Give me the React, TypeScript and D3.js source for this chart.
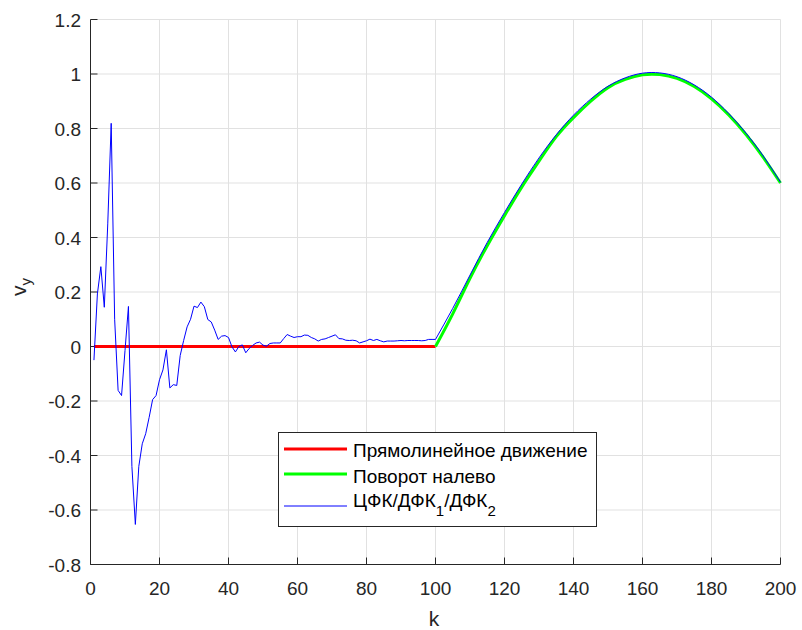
import React from "react";
import * as d3 from "d3";

const W = 802;
const H = 630;

const xTicks = [0, 20, 40, 60, 80, 100, 120, 140, 160, 180, 200];
const yTicks = [-0.8, -0.6, -0.4, -0.2, 0, 0.2, 0.4, 0.6, 0.8, 1, 1.2];
const yTickLabels = ["-0.8", "-0.6", "-0.4", "-0.2", "0", "0.2", "0.4", "0.6", "0.8", "1", "1.2"];

// Red: straight motion (k = 1..100, value 0)
const redK = [1, 100];
const redV = [0, 0];

// Green: left turn (k = 100..200)
const greenK = [100, 105, 110, 115, 120, 125, 130, 135, 140, 145, 150, 155, 160, 165, 170, 175, 180, 185, 190, 195, 200];
const greenV = [0, 0.12, 0.25, 0.37, 0.48, 0.585, 0.68, 0.77, 0.84, 0.9, 0.95, 0.98, 0.997, 0.998, 0.984, 0.954, 0.909, 0.85, 0.778, 0.694, 0.6];

// Blue: filter estimate, k = 1..100 (noisy part)
const blueNoisyV = [
  -0.05, 0.193, 0.293, 0.144, 0.45, 0.819, 0.1, -0.161, -0.18, -0.015,
  0.147, -0.44, -0.653, -0.44, -0.357, -0.32, -0.26, -0.195, -0.18, -0.122,
  -0.086, -0.012, -0.152, -0.14, -0.143, -0.033, 0.022, 0.072, 0.1, 0.148,
  0.143, 0.163, 0.146, 0.099, 0.09, 0.06, 0.026, 0.038, 0.04, 0.033,
  -0.001, -0.02, 0.0, 0.006, -0.023, -0.007, 0.004, 0.013, 0.016, 0.005,
  0.001, 0.011, 0.013, 0.013, 0.013, 0.029, 0.044, 0.038, 0.033, 0.036,
  0.036, 0.042, 0.041, 0.033, 0.028, 0.02, 0.026, 0.028, 0.033, 0.038,
  0.043, 0.029, 0.028, 0.023, 0.022, 0.023, 0.021, 0.013, 0.017, 0.021,
  0.027, 0.022, 0.026, 0.021, 0.017, 0.02, 0.02, 0.02, 0.021, 0.022,
  0.021, 0.022, 0.022, 0.022, 0.022, 0.021, 0.022, 0.026, 0.026, 0.026,
];
// Blue: curve part, k = 100..200
const blueCurveK = [100, 105, 110, 115, 120, 125, 130, 135, 140, 145, 150, 155, 160, 165, 170, 175, 180, 185, 190, 195, 200];
const blueCurveV = [0.026, 0.14, 0.262, 0.382, 0.492, 0.596, 0.692, 0.777, 0.849, 0.908, 0.955, 0.986, 1.003, 1.004, 0.99, 0.96, 0.915, 0.855, 0.783, 0.699, 0.603];

const legendLabels = ["Прямолинейное движение", "Поворот налево"];

const AX = "#262626";
const GRID = "#e1e1e1";
const FONT = "'Liberation Sans', Arial, Helvetica, sans-serif";

export default function App() {
  const x = d3.scaleLinear().domain([0, 200]).range([90.5, 780.5]);
  const y = d3.scaleLinear().domain([-0.8, 1.2]).range([564.5, 19.5]);

  const line = d3
    .line<[number, number]>()
    .x((d) => x(d[0]))
    .y((d) => y(d[1]));
  const smooth = d3
    .line<[number, number]>()
    .x((d) => x(d[0]))
    .y((d) => y(d[1]))
    .curve(d3.curveNatural);

  const redPts: [number, number][] = redK.map((k, i) => [k, redV[i]]);
  const greenPts: [number, number][] = greenK.map((k, i) => [k, greenV[i]]);
  const blueNoisyPts: [number, number][] = blueNoisyV.map((v, i) => [i + 1, v]);
  const blueCurvePts: [number, number][] = blueCurveK.map((k, i) => [k, blueCurveV[i]]);

  const bluePath = (line(blueNoisyPts) || "") + (smooth(blueCurvePts) || "").replace(/^M/, "L");

  const [x0, x1] = x.range();
  const [yb, yt] = y.range();

  // legend geometry
  const lgX = 278.5, lgY = 432.5, lgW = 318, lgH = 94;
  const rowsLine = [449, 474, 506];
  const rowsBase = [457, 483, 507];

  return (
    <svg
      width={W}
      height={H}
      style={{ position: "absolute", left: 0, top: 0, background: "#fff" }}
      fontFamily={FONT}
    >
      <rect x={0} y={0} width={W} height={H} fill="#fff" />
      {/* grid */}
      {xTicks.map((t) => (
        <line key={"gx" + t} x1={x(t)} x2={x(t)} y1={yb} y2={yt} stroke={GRID} strokeWidth={1} />
      ))}
      {yTicks.map((t) => (
        <line key={"gy" + t} x1={x0} x2={x1} y1={y(t)} y2={y(t)} stroke={GRID} strokeWidth={1} />
      ))}

      {/* axes */}
      <line x1={x0} x2={x0} y1={yb} y2={yt} stroke={AX} strokeWidth={1} />
      <line x1={x0} x2={x1} y1={yb} y2={yb} stroke={AX} strokeWidth={1} />
      {xTicks.map((t) => (
        <g key={"tx" + t}>
          <line x1={x(t)} x2={x(t)} y1={yb} y2={yb - 7} stroke={AX} strokeWidth={1} />
          <text x={x(t)} y={595} textAnchor="middle" fontSize={19} fill={AX}>
            {t}
          </text>
        </g>
      ))}
      {yTicks.map((t, i) => (
        <g key={"ty" + t}>
          <line x1={x0} x2={x0 + 7} y1={y(t)} y2={y(t)} stroke={AX} strokeWidth={1} />
          <text x={81} y={y(t) + 7} textAnchor="end" fontSize={19} fill={AX}>
            {yTickLabels[i]}
          </text>
        </g>
      ))}

      {/* axis labels */}
      <text x={434} y={626} textAnchor="middle" fontSize={21} fill={AX}>
        k
      </text>
      <text transform="translate(26,296) rotate(-90)" fontSize={21} fill={AX}>
        v<tspan fontSize={15} dy={5}>y</tspan>
      </text>

      {/* data */}
      <path d={line(redPts) || ""} fill="none" stroke="#ff0000" strokeWidth={3} />
      <path d={smooth(greenPts) || ""} fill="none" stroke="#00ff00" strokeWidth={3} />
      <path d={bluePath} fill="none" stroke="#0000ff" strokeWidth={1} strokeLinejoin="round" />

      {/* legend */}
      <rect x={lgX} y={lgY} width={lgW} height={lgH} fill="#fff" stroke={AX} strokeWidth={1} />
      <line x1={284} x2={347} y1={rowsLine[0]} y2={rowsLine[0]} stroke="#ff0000" strokeWidth={3} />
      <line x1={284} x2={347} y1={rowsLine[1]} y2={rowsLine[1]} stroke="#00ff00" strokeWidth={3} />
      <line x1={284} x2={347} y1={rowsLine[2]} y2={rowsLine[2]} stroke="#0000ff" strokeWidth={1} />
      <text x={353} y={rowsBase[0]} fontSize={19} fill="#000">
        {legendLabels[0]}
      </text>
      <text x={353} y={rowsBase[1]} fontSize={19} fill="#000">
        {legendLabels[1]}
      </text>
      <text x={353} y={rowsBase[2]} fontSize={19} fill="#000">
        ЦФК/ДФК<tspan fontSize={15} dy={9}>1</tspan>
        <tspan dy={-9}>/ДФК</tspan>
        <tspan fontSize={15} dy={9}>2</tspan>
      </text>
    </svg>
  );
}
